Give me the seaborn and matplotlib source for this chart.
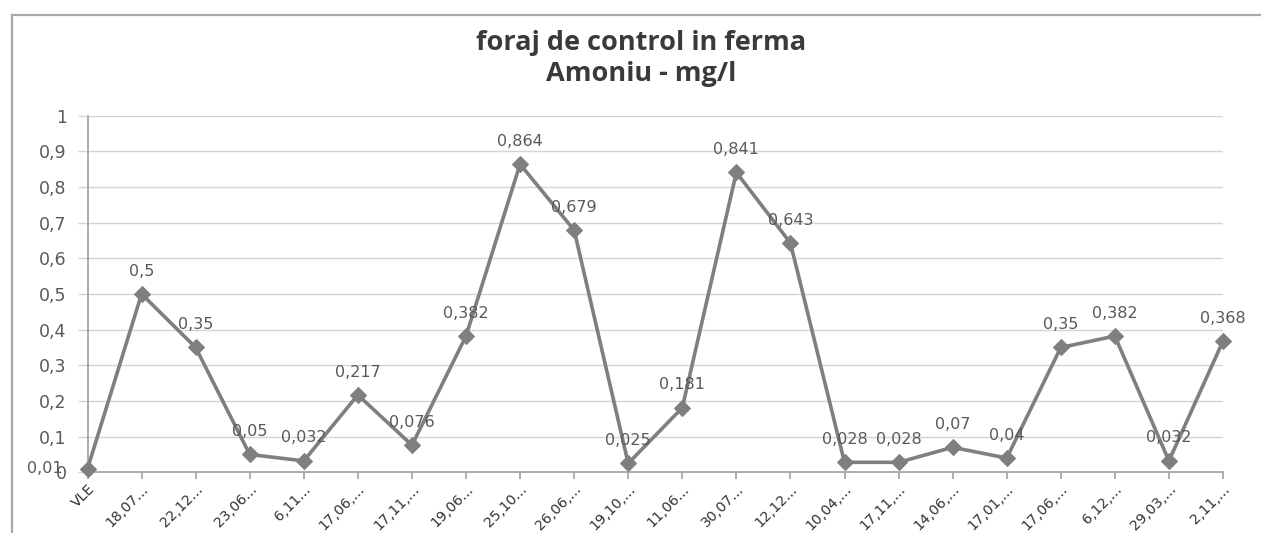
import matplotlib
matplotlib.use("Agg")
import matplotlib.pyplot as plt
import seaborn as sns
import pandas as pd
from matplotlib.patches import Rectangle

categories = ["VLE", "18,07...", "22,12...", "23,06...", "6,11...", "17,06,...", "17,11,...",
              "19,06...", "25,10...", "26,06,...", "19,10,...", "11,06...", "30,07...", "12,12...",
              "10,04,...", "17,11,...", "14,06,...", "17,01,...", "17,06,...", "6,12,...",
              "29,03,...", "2,11,..."]
values = [0.01, 0.5, 0.35, 0.05, 0.032, 0.217, 0.076, 0.382, 0.864, 0.679, 0.025,
          0.181, 0.841, 0.643, 0.028, 0.028, 0.07, 0.04, 0.35, 0.382, 0.032, 0.368]
value_labels = ["0,01", "0,5", "0,35", "0,05", "0,032", "0,217", "0,076", "0,382",
                "0,864", "0,679", "0,025", "0,181", "0,841", "0,643", "0,028", "0,028",
                "0,07", "0,04", "0,35", "0,382", "0,032", "0,368"]
yticks = [0, 0.1, 0.2, 0.3, 0.4, 0.5, 0.6, 0.7, 0.8, 0.9, 1]
ytick_labels = ["0", "0,1", "0,2", "0,3", "0,4", "0,5", "0,6", "0,7", "0,8", "0,9", "1"]

sns.set_theme(style="white")
plt.rcParams['font.family'] = ['DejaVu Sans']

df = pd.DataFrame({"x": list(range(len(categories))), "y": values})

fig = plt.figure(figsize=(12.61, 5.33), dpi=100)
fig.patch.set_facecolor("white")
ax = fig.add_axes([87.5 / 1261, 1 - 472.3 / 533, (1223 - 87.5) / 1261, (472.3 - 115.7) / 533])

# chart frame (right and bottom edges lie outside the picture)
fig.patches.append(Rectangle((12 / 1261, -0.05), 1.1, 1.05 - 15 / 533,
                             transform=fig.transFigure, fill=False,
                             edgecolor="#a8a8a8", linewidth=1.6, zorder=0))

for yv in yticks[1:]:
    ax.axhline(yv, color="#d4d4d4", linewidth=1.0, zorder=0)

sns.lineplot(data=df, x="x", y="y", ax=ax, color="#7f7f7f", linewidth=2.6,
             marker="D", markersize=8, markeredgecolor="#7f7f7f",
             markerfacecolor="#7f7f7f", zorder=3, clip_on=False)

for i, (v, lab) in enumerate(zip(values, value_labels)):
    if i == 0:
        ax.annotate(lab, (i, v), xytext=(-18, 0), textcoords="offset points",
                    ha="right", va="center", fontsize=11.5, color="#595959")
    else:
        ax.annotate(lab, (i, v), xytext=(0, 16.5), textcoords="offset points",
                    ha="center", va="center", fontsize=11.5, color="#595959")

ax.set_xlim(0, len(categories) - 1)
ax.set_ylim(0, 1)
ax.set_xticks(range(len(categories)))
ax.set_xticklabels(categories, rotation=45, ha="right", rotation_mode="anchor",
                   fontsize=10.2, color="#333333")
ax.set_yticks(yticks)
ax.set_yticklabels(ytick_labels, fontsize=12.5, color="#595959")
ax.set_xlabel("")
ax.set_ylabel("")

for side in ["top", "right"]:
    ax.spines[side].set_visible(False)
for side in ["left", "bottom"]:
    ax.spines[side].set_color("#a0a0a0")
    ax.spines[side].set_linewidth(1.2)
ax.tick_params(axis="x", direction="out", length=5, color="#a0a0a0", width=1.2, pad=2,
               bottom=True)
ax.tick_params(axis="y", direction="out", length=7, color="#d4d4d4", width=1.0, pad=8,
               left=True)

title_font = ['Open Sans', 'DejaVu Sans']
fig.text(641 / 1261, 1 - 43 / 533, "foraj de control in ferma", ha="center", va="center",
         fontsize=19.5, fontweight="bold", color="#3a3a3a", family=title_font)
fig.text(641 / 1261, 1 - 74 / 533, "Amoniu - mg/l", ha="center", va="center",
         fontsize=19.5, fontweight="bold", color="#3a3a3a", family=title_font)

fig.savefig("out.png", dpi=100, facecolor="white")
